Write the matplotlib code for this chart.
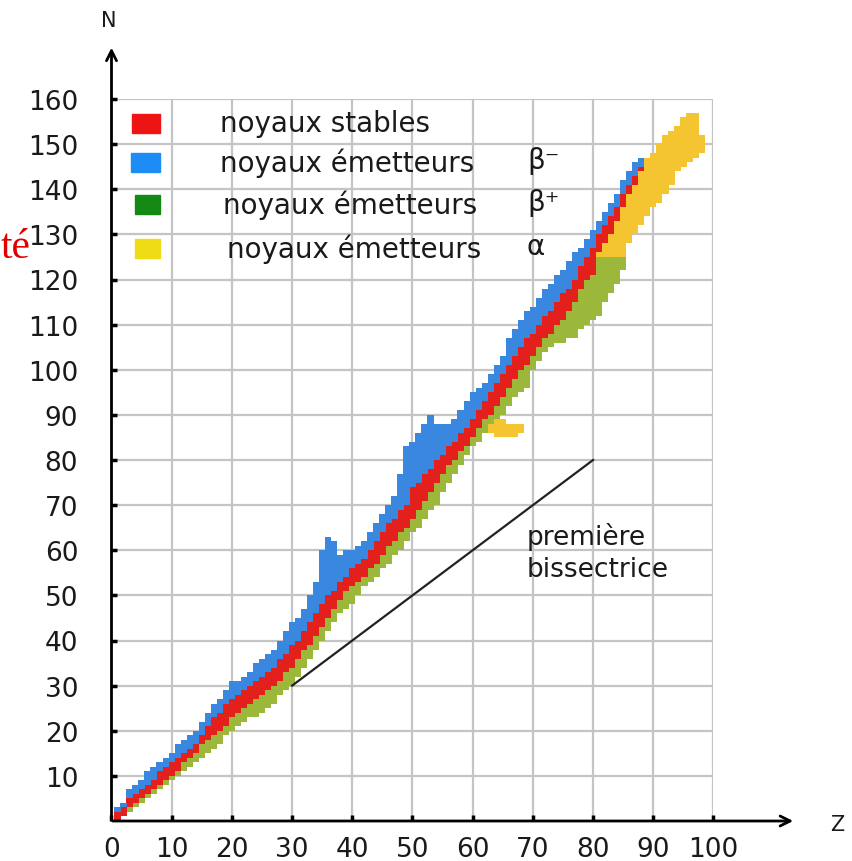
import matplotlib
matplotlib.use('Agg')
import matplotlib.pyplot as plt
from matplotlib.patches import Rectangle

W, H = 853, 862

# per Z: bottom of beta+ zone, stable zone limits, top of beta- zone
z = list(range(1, 89))
n_low = [0, 1, 2, 3, 4, 5, 6, 7, 8, 9,
         10, 11, 12, 13, 14, 15, 16, 17, 19, 20,
         21, 22, 23, 23, 24, 25, 26, 28, 29, 30,
         32, 34, 36, 38, 40, 42, 44, 46, 47, 48,
         50, 52, 53, 54, 56, 57, 59, 60, 62, 64,
         65, 67, 69, 70, 73, 75, 77, 79, 81, 83,
         84, 86, 87, 89, 90, 92, 94, 95, 96, 100,
         102, 104, 105, 106, 106, 107, 107, 109, 110, 111,
         112, 115, 117, 119, 122, 128, 130, 132]
stable_lo = [0, 1, 3, 4, 5, 6, 7, 8, 9, 10,
             11, 13, 14, 15, 17, 18, 19, 20, 21, 23,
             24, 25, 26, 27, 28, 29, 30, 31, 33, 34,
             36, 38, 39, 41, 43, 45, 47, 49, 51, 52,
             53, 54, 56, 57, 59, 61, 62, 64, 65, 67,
             69, 71, 73, 75, 77, 79, 80, 82, 83, 85,
             87, 89, 90, 92, 94, 96, 98, 100, 101, 103,
             105, 107, 108, 110, 111, 113, 115, 118, 120, 121,
             126, 128, 130, 133, 136, 139, 141, 144]
stable_hi = [2, 3, 5, 6, 7, 8, 9, 11, 12, 13,
             14, 15, 16, 17, 19, 21, 23, 24, 26, 27,
             28, 29, 30, 31, 32, 33, 34, 36, 37, 39,
             40, 42, 44, 46, 48, 50, 51, 53, 54, 56,
             57, 58, 60, 62, 64, 66, 67, 69, 70, 74,
             75, 77, 78, 80, 81, 83, 84, 86, 87, 89,
             91, 93, 95, 97, 99, 101, 103, 105, 107, 108,
             110, 112, 113, 115, 117, 118, 120, 123, 125, 127,
             130, 132, 134, 136, 139, 141, 143, 145]
n_high = [3, 4, 7, 8, 9, 11, 12, 13, 14, 15,
          17, 18, 19, 20, 22, 24, 26, 27, 29, 31,
          31, 32, 33, 35, 36, 37, 38, 40, 42, 44,
          45, 47, 50, 53, 60, 63, 62, 59, 60, 60,
          61, 62, 64, 66, 68, 70, 72, 77, 83, 84,
          86, 88, 90, 88, 88, 88, 89, 91, 93, 95,
          96, 97, 99, 101, 103, 107, 109, 111, 113, 114,
          116, 118, 119, 121, 122, 124, 126, 127, 129, 131,
          133, 135, 137, 139, 142, 144, 146, 147]

alpha_z = [63, 64, 65, 66, 67, 68,
           81, 82, 83, 84, 85, 86, 87, 88, 89, 90,
           91, 92, 93, 94, 95, 96, 97, 98]
alpha_lo = [86, 85, 85, 85, 85, 86,
            125, 125, 125, 125, 125, 128, 130, 132, 134, 136,
            137, 139, 141, 144, 145, 146, 147, 148]
alpha_hi = [88, 89, 89, 88, 88, 88,
            126, 128, 130, 133, 136, 139, 141, 144, 147, 148,
            150, 152, 153, 154, 156, 157, 157, 152]

bissec_z = [30, 80]
bissec_n = [30, 80]

x_ticks = list(range(0, 101, 10))
y_ticks = list(range(10, 161, 10))

labels = ['noyaux stables', 'noyaux émetteurs', 'noyaux émetteurs', 'noyaux émetteurs']
decay = ['', 'β⁻', 'β⁺', 'α']
legend_colors = ['#ee1414', '#1e8cf5', '#148a14', '#f0dc14']

c_stable = '#e3201b'
c_minus = '#3a87e0'
c_plus = '#9cb83a'
c_alpha = '#f5c431'


def px(x, y):
    return x / W, 1 - y / H


def draw_band(ax):
    plus_h = [b - a for a, b in zip(n_low, stable_lo)]
    stab_h = [b - a for a, b in zip(stable_lo, stable_hi)]
    minus_h = [b - a for a, b in zip(stable_hi, n_high)]
    alpha_h = [b - a for a, b in zip(alpha_lo, alpha_hi)]
    kw = dict(width=1.05, linewidth=0, antialiased=False, zorder=3)
    ax.bar(z, plus_h, bottom=n_low, color=c_plus, **kw)
    ax.bar(z, stab_h, bottom=stable_lo, color=c_stable, **kw)
    ax.bar(z, minus_h, bottom=stable_hi, color=c_minus, **kw)
    ax.bar(alpha_z, alpha_h, bottom=alpha_lo, color=c_alpha, **kw)


def draw_legend(fig):
    rows_y = [124, 163, 205, 249]
    text_x = [220, 220, 223, 227]
    box_x = [132, 131, 135, 135]
    box_w = [28, 29, 25, 25]
    for i in range(4):
        x0, y0 = px(box_x[i], rows_y[i] + 10)
        fig.add_artist(Rectangle((x0, y0), box_w[i] / W, 19 / H,
                                 transform=fig.transFigure,
                                 color=legend_colors[i], zorder=5))
        tx, ty = px(text_x[i], rows_y[i])
        fig.text(tx, ty, labels[i], fontsize=20, va='center', color='#1a1a1a')
        if decay[i]:
            dx, dy = px(527, rows_y[i] - 2)
            fig.text(dx, dy, decay[i], fontsize=20, va='center', color='#1a1a1a')


def show_chart():
    fig = plt.figure(figsize=(W / 100, H / 100), dpi=100)
    ax = fig.add_axes([111.5 / W, 1 - 822 / H, 602 / W, 722 / H])
    ax.set_xlim(0, 100)
    ax.set_ylim(0, 160)
    for s in ax.spines.values():
        s.set_visible(False)

    ax.set_xticks(x_ticks)
    ax.set_yticks(y_ticks)
    ax.tick_params(direction='in', length=4, width=2.5, color='black',
                   labelsize=19, labelcolor='#1a1a1a')
    ax.tick_params(axis='x', pad=11)
    ax.tick_params(axis='y', pad=24)
    ax.grid(True, color='#c4c4c4', linewidth=1.6)
    ax.set_axisbelow(True)

    draw_band(ax)
    ax.plot(bissec_z, bissec_n, color='#222222', linewidth=1.6, zorder=4)

    arrow = dict(arrowstyle='->', lw=2, color='black', mutation_scale=18)
    ax.annotate('', xy=(113.7, 0), xytext=(-0.3, 0), arrowprops=arrow,
                annotation_clip=False)
    ax.annotate('', xy=(0, 172), xytext=(0, -0.3), arrowprops=arrow,
                annotation_clip=False)

    fig.text(*px(109, 21), 'N', fontsize=15, ha='center', va='center', color='#1a1a1a')
    fig.text(*px(837, 825), 'Z', fontsize=15, ha='center', va='center', color='#1a1a1a')
    fig.text(*px(527, 537), 'première', fontsize=19, va='center', color='#1a1a1a')
    fig.text(*px(527, 570), 'bissectrice', fontsize=19, va='center', color='#1a1a1a')
    fig.text(*px(1, 258), 'té', fontsize=30, ha='left', va='baseline',
             color='#e00000', family='Liberation Serif')

    draw_legend(fig)
    fig.savefig('out.png', dpi=100)


if __name__ == "__main__":
    show_chart()
